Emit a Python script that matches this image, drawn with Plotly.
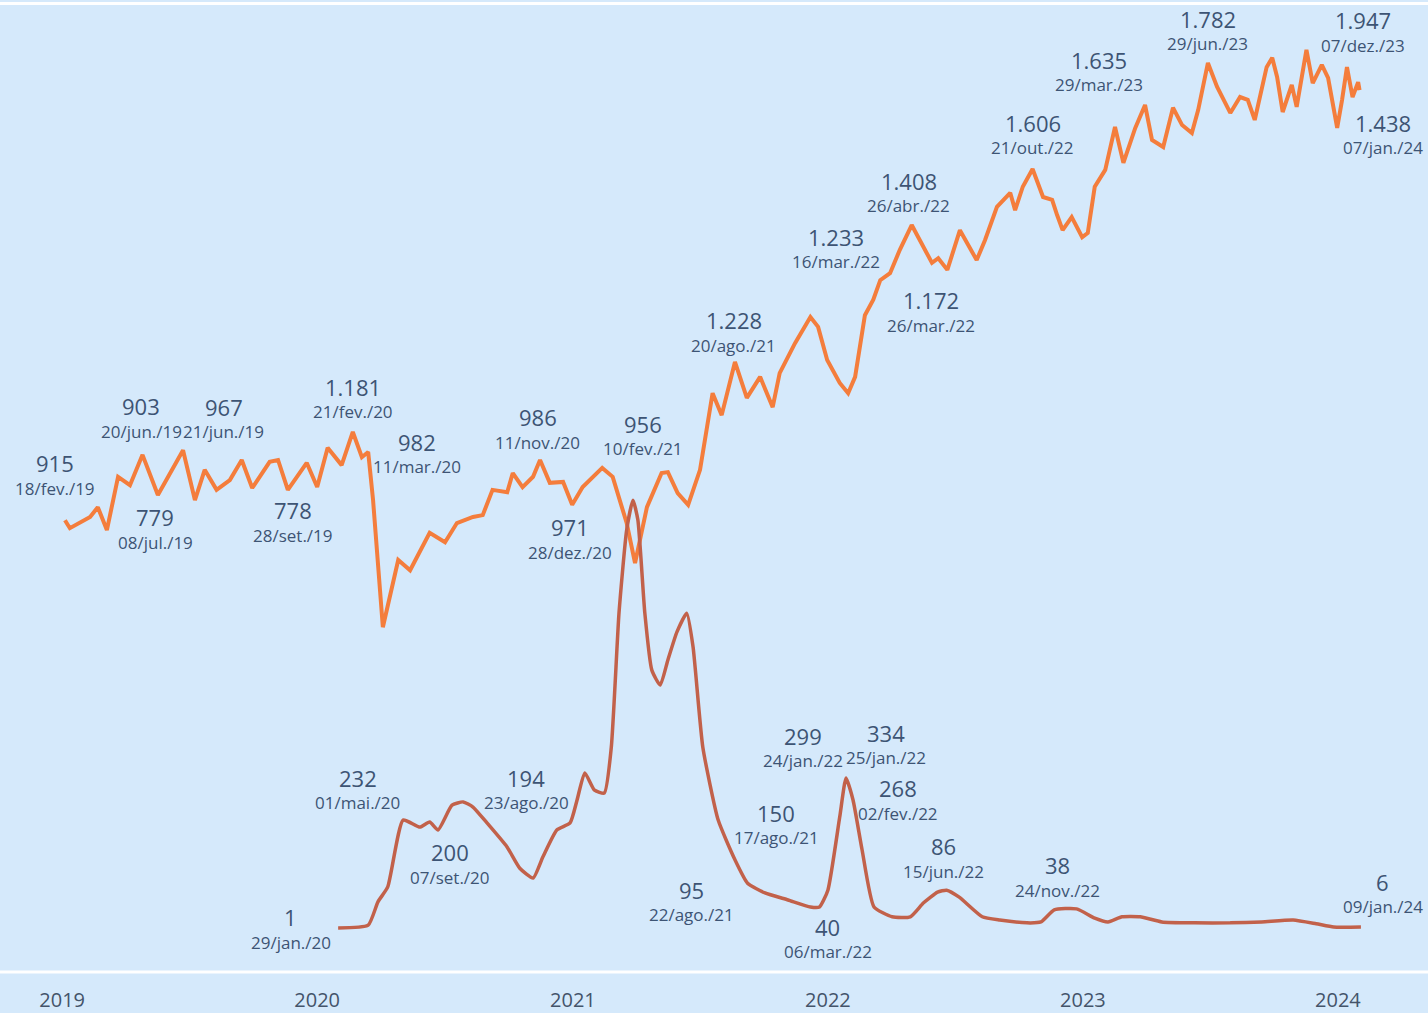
import plotly.graph_objects as go

# ---------------- data ----------------
orange_dates = [
    "2019-01-05", "2019-01-12", "2019-02-10", "2019-02-21", "2019-03-06", "2019-03-22",
    "2019-04-08", "2019-04-26", "2019-05-18", "2019-06-04", "2019-06-23", "2019-07-10",
    "2019-07-24", "2019-08-10", "2019-08-29", "2019-09-15", "2019-09-30", "2019-10-25",
    "2019-11-06", "2019-11-20", "2019-12-17", "2020-01-01", "2020-01-16", "2020-02-05",
    "2020-02-21", "2020-03-05", "2020-03-14", "2020-03-21", "2020-04-04", "2020-04-26",
    "2020-05-13", "2020-06-10", "2020-07-02", "2020-07-19", "2020-08-11", "2020-08-25",
    "2020-09-08", "2020-09-29", "2020-10-07", "2020-10-21", "2020-11-05", "2020-11-15",
    "2020-11-29", "2020-12-18", "2020-12-31", "2021-01-15", "2021-02-12", "2021-02-27",
    "2021-03-19", "2021-03-31", "2021-04-17", "2021-05-08", "2021-05-17", "2021-05-31",
    "2021-06-15", "2021-07-02", "2021-07-20", "2021-08-02", "2021-08-21", "2021-09-07",
    "2021-09-26", "2021-10-14", "2021-10-24", "2021-11-15", "2021-12-07", "2021-12-18",
    "2021-12-31", "2022-01-18", "2022-01-30", "2022-02-09", "2022-02-23", "2022-03-07",
    "2022-03-17", "2022-03-31", "2022-04-14", "2022-05-01", "2022-05-13", "2022-05-30",
    "2022-06-08", "2022-06-21", "2022-07-09", "2022-07-21", "2022-08-02", "2022-08-14",
    "2022-08-31", "2022-09-19", "2022-09-26", "2022-10-07", "2022-10-21", "2022-11-05",
    "2022-11-18", "2022-11-25", "2022-12-03", "2022-12-16", "2022-12-31", "2023-01-08",
    "2023-01-18", "2023-02-02", "2023-02-16", "2023-02-28", "2023-03-17", "2023-03-31",
    "2023-04-10", "2023-04-26", "2023-05-10", "2023-05-23", "2023-06-06", "2023-06-15",
    "2023-06-29", "2023-07-12", "2023-07-31", "2023-08-14", "2023-08-25", "2023-09-04",
    "2023-09-21", "2023-09-29", "2023-10-06", "2023-10-14", "2023-10-27", "2023-11-03",
    "2023-11-17", "2023-11-26", "2023-12-09", "2023-12-18", "2023-12-31", "2024-01-07",
    "2024-01-14", "2024-01-22", "2024-01-30", "2024-02-01",
]
orange_values = [
    874, 857, 881, 902, 853, 967,
    949, 1014, 928, 975, 1024, 917,
    982, 939, 960, 1003, 943, 999,
    1003, 939, 997, 945, 1029, 992,
    1063, 1009, 1020, 917, 645, 789,
    767, 847, 827, 868, 881, 885,
    939, 934, 975, 945, 967, 1003,
    954, 956, 907, 945, 986, 967,
    868, 782, 902, 975, 977, 932,
    907, 982, 1146, 1099, 1213, 1136,
    1181, 1116, 1189, 1253, 1309, 1288,
    1217, 1168, 1146, 1181, 1313, 1346,
    1388, 1403, 1453, 1506, 1474, 1425,
    1435, 1410, 1495, 1463, 1431, 1474,
    1545, 1575, 1538, 1588, 1626, 1566,
    1560, 1528, 1495, 1523, 1480, 1489,
    1588, 1624, 1716, 1639, 1714, 1763,
    1688, 1673, 1757, 1720, 1703, 1752,
    1853, 1802, 1746, 1780, 1774, 1731,
    1844, 1864, 1823, 1748, 1806, 1759,
    1881, 1810, 1849, 1821, 1714, 1774,
    1844, 1780, 1812, 1795,
]

red_dates = [
    "2020-01-31", "2020-03-14", "2020-03-28", "2020-04-11", "2020-05-03", "2020-05-27",
    "2020-06-10", "2020-06-22", "2020-07-12", "2020-07-28", "2020-08-11", "2020-08-31",
    "2020-09-29", "2020-10-17", "2020-11-05", "2020-11-19", "2020-12-09", "2020-12-28",
    "2021-01-07", "2021-01-18", "2021-02-01", "2021-02-15", "2021-02-25", "2021-03-08",
    "2021-03-19", "2021-03-28", "2021-04-04", "2021-04-14", "2021-04-24", "2021-05-06",
    "2021-05-17", "2021-05-30", "2021-06-13", "2021-06-22", "2021-07-06", "2021-07-28",
    "2021-08-21", "2021-09-08", "2021-10-03", "2021-11-05", "2021-12-07", "2021-12-20",
    "2022-01-01", "2022-01-18", "2022-01-27", "2022-02-06", "2022-02-19", "2022-03-08",
    "2022-04-03", "2022-04-29", "2022-05-18", "2022-06-07", "2022-06-20", "2022-07-08",
    "2022-08-10", "2022-09-04", "2022-10-13", "2022-11-02", "2022-11-21", "2022-12-23",
    "2023-01-18", "2023-02-06", "2023-02-26", "2023-03-24", "2023-04-24", "2023-06-09",
    "2023-07-31", "2023-09-14", "2023-10-29", "2023-12-01", "2023-12-26", "2024-02-03",
]
red_values = [
    1, 7, 57, 89, 232, 217,
    228, 211, 264, 271, 260, 226,
    174, 129, 108, 153, 211, 226,
    275, 333, 296, 290, 388, 675,
    853, 917, 875, 675, 553, 521,
    575, 635, 675, 603, 388, 232,
    147, 97, 76, 61, 46, 46,
    82, 239, 322, 275, 168, 46,
    25, 25, 55, 78, 82, 67,
    25, 18, 12, 14, 40, 42,
    22, 14, 25, 25, 14, 12,
    12, 14, 18, 10, 3, 3,
]

# highlighted values and dates (label texts)
label_values = [
    "915", "903", "967", "779", "778", "1.181", "982", "986", "956", "971",
    "1.228", "1.233", "1.408", "1.172", "1.606", "1.635", "1.782", "1.947", "1.438",
    "1", "232", "200", "194", "95", "150", "299", "334", "268", "40", "86", "38", "6",
]
label_dates = [
    "18/fev./19", "20/jun./19", "21/jun./19", "08/jul./19", "28/set./19", "21/fev./20",
    "11/mar./20", "11/nov./20", "10/fev./21", "28/dez./20", "20/ago./21", "16/mar./22",
    "26/abr./22", "26/mar./22", "21/out./22", "29/mar./23", "29/jun./23", "07/dez./23",
    "07/jan./24",
    "29/jan./20", "01/mai./20", "07/set./20", "23/ago./20", "22/ago./21", "17/ago./21",
    "24/jan./22", "25/jan./22", "02/fev./22", "06/mar./22", "15/jun./22", "24/nov./22",
    "09/jan./24",
]

year_ticks = ["2019-01-01", "2020-01-01", "2021-01-01", "2022-01-01", "2023-01-01", "2024-01-01"]
year_labels = ["2019", "2020", "2021", "2022", "2023", "2024"]

# ---------------- label placement (date-line anchors) ----------------
label_x = [
    "2018-12-22", "2019-04-24", "2019-08-20", "2019-05-14", "2019-11-27", "2020-02-21",
    "2020-05-23", "2020-11-12", "2021-04-11", "2020-12-28", "2021-08-19", "2022-01-12",
    "2022-04-27", "2022-05-29", "2022-10-21", "2023-01-24", "2023-06-29", "2024-02-06",
    "2024-03-06",
    "2019-11-24", "2020-02-28", "2020-07-09", "2020-10-26", "2021-06-20", "2021-10-19",
    "2021-11-27", "2022-03-25", "2022-04-11", "2022-01-01", "2022-06-15", "2022-11-25",
    "2024-03-05",
]
label_y = [
    943, 1065, 1063, 827, 842, 1106, 988, 1041, 1027, 806,
    1249, 1427, 1547, 1292, 1671, 1806, 1894, 1891, 1671,
    -29, 269, 110, 269, 29, 194, 359, 365, 247, -50, 123, 82, 46,
]

BG = "#d5e9fb"
TEXT = "#3d5474"
FONT = "Open Sans"

fig = go.Figure()
fig.add_trace(go.Scatter(
    x=orange_dates, y=orange_values, mode="lines",
    line=dict(color="#f47d3c", width=4), hoverinfo="skip", showlegend=False,
))
fig.add_trace(go.Scatter(
    x=red_dates, y=red_values, mode="lines",
    line=dict(color="#c2614a", width=3.5, shape="spline", smoothing=0.5),
    hoverinfo="skip", showlegend=False,
))

annotations = []
for xv, yv, val, dt in zip(label_x, label_y, label_values, label_dates):
    annotations.append(dict(
        x=xv, y=yv, xref="x", yref="y", text=dt, showarrow=False,
        font=dict(family=FONT, size=17, color=TEXT), xanchor="center", yanchor="middle",
    ))
    annotations.append(dict(
        x=xv, y=yv, xref="x", yref="y", text=val, showarrow=False, yshift=25,
        font=dict(family=FONT, size=22, color=TEXT), xanchor="center", yanchor="middle",
    ))

fig.update_layout(
    width=1428, height=1013,
    margin=dict(l=0, r=0, t=0, b=41),
    paper_bgcolor=BG, plot_bgcolor=BG,
    annotations=annotations,
    shapes=[
        dict(type="line", xref="paper", yref="paper", x0=0, x1=1, y0=0, y1=0,
             line=dict(color="white", width=3)),
        dict(type="line", xref="paper", yref="paper", x0=0, x1=1, y0=0.9965, y1=0.9965,
             line=dict(color="white", width=3)),
    ],
    xaxis=dict(
        range=["2018-10-04", "2024-05-09"], showgrid=False, zeroline=False,
        tickvals=year_ticks, ticktext=year_labels, ticks="outside", ticklen=10,
        tickcolor="rgba(0,0,0,0)", tickfont=dict(family=FONT, size=20, color="#44546a"),
        showline=False,
    ),
    yaxis=dict(range=[-93.2, 1987.8], visible=False, showgrid=False, zeroline=False),
)

fig.write_html("out.html", config={"displayModeBar": False},
               post_script="document.body.style.margin='0';")
